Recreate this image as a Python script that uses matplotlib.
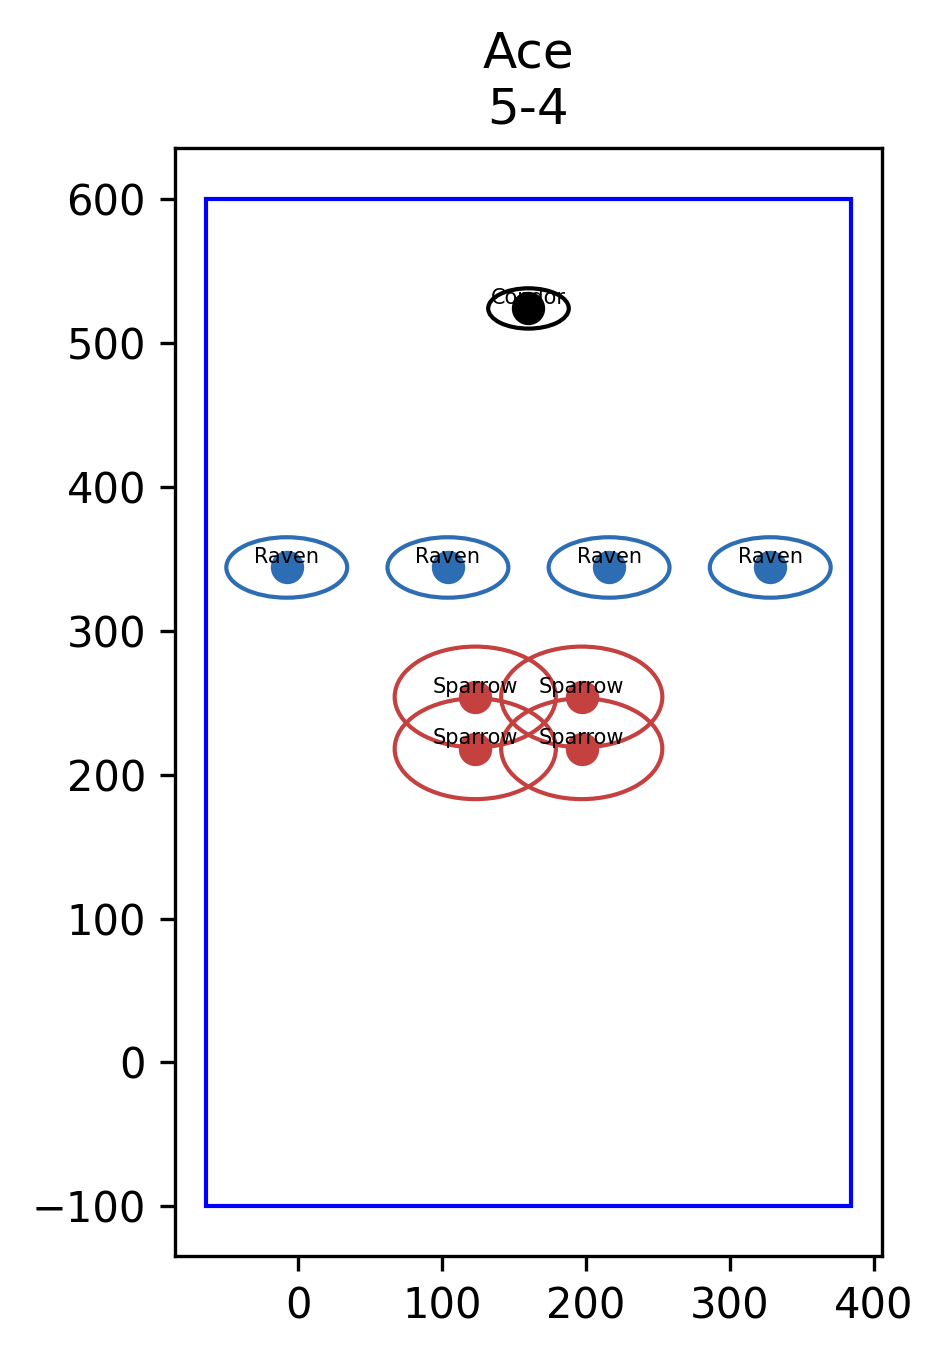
import matplotlib
matplotlib.use("Agg")
import matplotlib.pyplot as plt
from matplotlib.patches import Ellipse, Rectangle

# Data
labels = ["Condor", "Raven", "Raven", "Raven", "Raven",
          "Sparrow", "Sparrow", "Sparrow", "Sparrow"]
xs = [160, -8, 104, 216, 328, 123, 197, 123, 197]
ys = [524, 344, 344, 344, 344, 254, 254, 218, 218]
ell_w = [56, 84, 84, 84, 84, 112, 112, 112, 112]
ell_h = [28, 42, 42, 42, 42, 70, 70, 70, 70]
colors = ["black", "#2d6db3", "#2d6db3", "#2d6db3", "#2d6db3",
          "#c4413f", "#c4413f", "#c4413f", "#c4413f"]
field_x = [-64, 384]
field_y = [-100, 600]
title = "Ace\n5-4"

fig = plt.figure(figsize=(9.43 / 3, 13.58 / 3), dpi=300)
ax = fig.add_axes([175 / 943, 1 - 1256 / 1358, 707 / 943, 1108 / 1358])

ax.add_patch(Rectangle((field_x[0], field_y[0]), field_x[1] - field_x[0],
                       field_y[1] - field_y[0], fill=False, edgecolor="blue", lw=1.0))

for lab, x, y, w, h, c in zip(labels, xs, ys, ell_w, ell_h, colors):
    ax.add_patch(Ellipse((x, y), w, h, fill=False, edgecolor=c, lw=1.0))
    ax.plot([x], [y], "o", color=c, markersize=7)
    ax.text(x, y + 3, lab, ha="center", va="baseline", fontsize=5)

ax.set_xlim(-85.5, 405.5)
ax.set_ylim(-134.5, 635.5)
ax.set_aspect("equal")
ax.set_xticks([0, 100, 200, 300, 400])
ax.set_yticks([-100, 0, 100, 200, 300, 400, 500, 600])
ax.set_title(title)

fig.savefig("out.png", dpi=300)
